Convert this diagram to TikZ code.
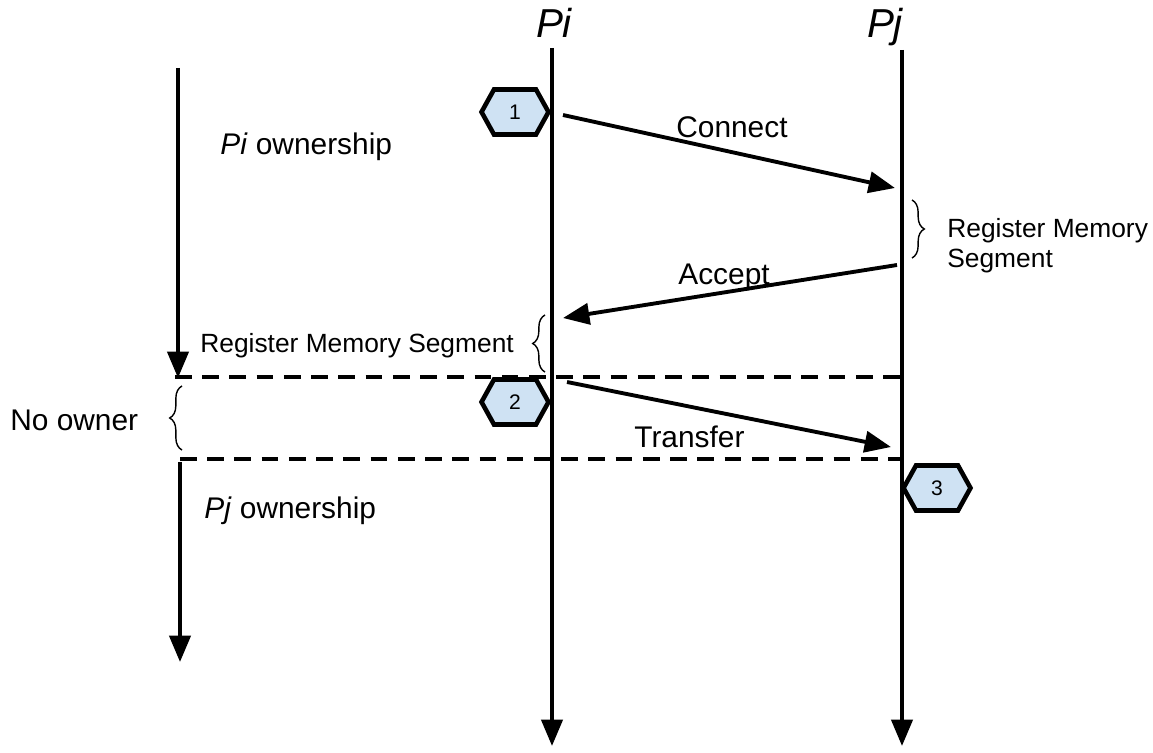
\documentclass[tikz,border=0pt]{standalone}
\usepackage{fontspec}
\setmainfont{Liberation Sans}
\usetikzlibrary{arrows.meta,positioning,shapes.symbols,decorations.pathreplacing}
\definecolor{hexfill}{HTML}{CFE2F3}

\begin{document}
\begin{tikzpicture}[x=0.02cm,y=-0.02cm,
  line/.style={line width=2.2pt},
  msg/.style={line,-{Triangle[width=12pt,length=15pt]}},
  sep/.style={line,dash pattern=on 9.5pt off 6pt},
  hexa/.style={signal,signal to=east and west,signal pointer angle=122,draw,line width=2.6pt,fill=hexfill,minimum width=1.34cm,minimum height=.9cm,inner sep=0pt,font=\fontsize{12}{14}\selectfont},
  proc/.style={font=\fontsize{23}{27}\selectfont\itshape,anchor=base,inner sep=0pt},
  lbl/.style={font=\fontsize{17}{20}\selectfont,inner sep=0pt,anchor=base west},
  note/.style={font=\fontsize{15}{17}\selectfont,inner sep=0pt,align=left},
  curly/.style={decorate,decoration={brace,amplitude=7pt},line width=.8pt},
]
\useasboundingbox (0,0) rectangle (1153,753);

% process names and lifelines
\node[proc] (pi) at (554,38) {Pi};
\node[proc] (pj) at (885,38) {Pj};
\coordinate (pitop) at (552,48);
\coordinate (pibot) at (552,746);
\coordinate (pjtop) at (902,50);
\coordinate (pjbot) at (902,746);
\draw[msg] (pitop) -- (pibot);
\draw[msg] (pjtop) -- (pjbot);

% messages
\coordinate (c1) at (563,115);  \coordinate (c2) at (895,188);
\coordinate (a1) at (897,265);  \coordinate (a2) at (563,318);
\coordinate (t1) at (567,382);  \coordinate (t2) at (891,447);
\draw[msg] (c1) -- (c2);
\draw[msg] (a1) -- (a2);
\draw[msg] (t1) -- (t2);
\node[lbl] (connect) at (676,138) {Connect};
\node[lbl] (accept) at (678,285) {Accept};
\node[lbl] (transfer) at (634,447) {Transfer};

% steps
\node[hexa] (h1) at (515,112) {1};
\node[hexa] (h2) at (515,402) {2};
\node[hexa] (h3) at (937,488) {3};

% ownership phases
\coordinate (d1a) at (175,377);  \coordinate (d1b) at (902,377);
\coordinate (d2a) at (180,459);  \coordinate (d2b) at (902,459);
\draw[sep] (d1a) -- (d1b);
\draw[sep] (d2a) -- (d2b);
\coordinate (o1a) at (178,68);   \coordinate (o1b) at (178,378);
\coordinate (o2a) at (180,462);  \coordinate (o2b) at (180,662);
\draw[msg] (o1a) -- (o1b);
\draw[msg] (o2a) -- (o2b);
\node[lbl] (piown) at (220,155) {\textit{Pi} ownership};
\node[lbl] (pjown) at (204,518) {\textit{Pj} ownership};
\node[lbl] (noown) at (10,430) {No owner};

% registration
\coordinate (bj1) at (912,200);  \coordinate (bj2) at (912,258);
\coordinate (bi1) at (545,372);  \coordinate (bi2) at (545,315);
\coordinate (bn1) at (182,450);  \coordinate (bn2) at (182,386);
\draw[curly] (bj1) -- (bj2);
\draw[curly] (bi1) -- (bi2);
\draw[curly] (bn1) -- (bn2);
\node[note,anchor=west] (regj) at (947,246) {Register Memory\\Segment};
\node[note,anchor=base west] (regi) at (200,353) {Register Memory Segment};
\end{tikzpicture}
\end{document}
